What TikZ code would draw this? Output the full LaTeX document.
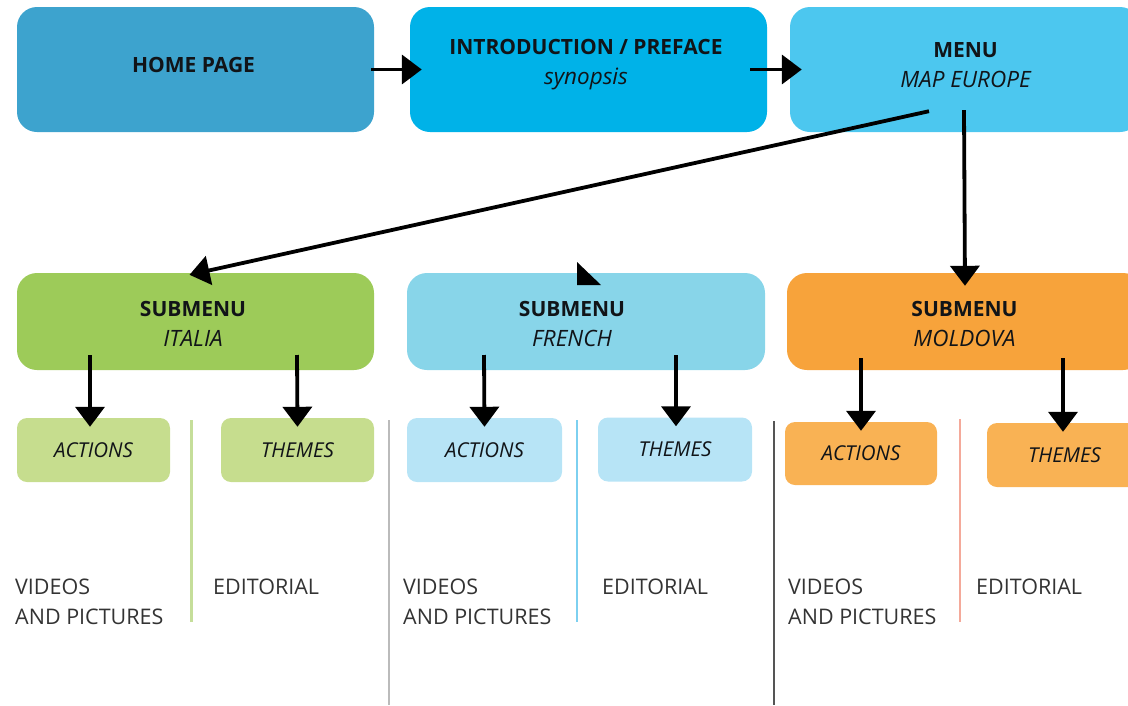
\documentclass[tikz,border=0pt]{standalone}
\usepackage{fontspec}
\setmainfont{Open Sans}
\usetikzlibrary{arrows.meta,calc}
\definecolor{chome}{HTML}{3DA3CE}
\definecolor{cintro}{HTML}{00B2E8}
\definecolor{cmenu}{HTML}{4CC7EF}
\definecolor{citalia}{HTML}{9DCB59}
\definecolor{cfrench}{HTML}{88D5E9}
\definecolor{cmoldova}{HTML}{F7A33B}
\definecolor{citaliaL}{HTML}{C6DD8E}
\definecolor{cfrenchL}{HTML}{B7E4F6}
\definecolor{cmoldovaL}{HTML}{F9B254}
\definecolor{ctitle}{HTML}{111418}
\definecolor{clabel}{HTML}{333333}
\definecolor{sepgreen}{HTML}{C5DE9A}
\definecolor{sepgray}{HTML}{BBBBBB}
\definecolor{sepblue}{HTML}{7DD0F0}
\definecolor{sepdark}{HTML}{555555}
\definecolor{sepsalmon}{HTML}{F4A99A}
\newcommand{\subt}[1]{\fontsize{22.5}{30}\selectfont\mdseries\itshape #1}
\begin{document}
\begin{tikzpicture}[x=1pt,y=-1pt,
  bigbox/.style={rounded corners=20pt, minimum width=357pt, minimum height=125pt, inner sep=0pt},
  midbox/.style={rounded corners=20pt, minimum width=357pt, minimum height=97pt, inner sep=0pt},
  smallbox/.style={rounded corners=10pt, minimum width=153pt, minimum height=64pt, inner sep=0pt,
     font=\fontsize{20.5}{24}\selectfont\itshape, text=ctitle},
  title/.style={align=center, inner sep=0pt, text=ctitle, font=\fontsize{21}{30}\selectfont\bfseries},
  lbl/.style={align=left, anchor=north west, inner sep=0pt, text=clabel, font=\fontsize{21.5}{30}\selectfont},
  arr/.style={line width=3.8pt, -{Triangle[width=29pt,length=20pt]}},
  sep/.style={line width=2.5pt}
]
\useasboundingbox (0,0) rectangle (1128,705);
\clip (0,0) rectangle (1128,705);

% row 1
\node[bigbox, fill=chome] (home) at (195.5,69.5) {};
\node[title] (home-t) at (193.5,64.5) {HOME PAGE};
\node[bigbox, fill=cintro] (intro) at (588.5,69.5) {};
\node[title] (intro-t) at (586,65) {INTRODUCTION / PREFACE\\\subt{synopsis}};
\node[bigbox, fill=cmenu, minimum width=350pt] (menu) at (965,69.5) {};
\node[title] (menu-t) at (965.5,65) {MENU\\\subt{MAP EUROPE}};

% row 2
\node[midbox, fill=citalia] (italia) at (195.5,321.5) {};
\node[title] (italia-t) at (193,324) {SUBMENU\\\subt{ITALIA}};
\node[midbox, fill=cfrench, minimum width=358pt] (french) at (586,321.5) {};
\node[title] (french-t) at (572,324) {SUBMENU\\\subt{FRENCH}};
\node[midbox, fill=cmoldova, minimum width=356pt] (moldova) at (965,321.5) {};
\node[title] (moldova-t) at (964.5,324) {SUBMENU\\\subt{MOLDOVA}};

% row 3
\node[smallbox, fill=citaliaL] (ia) at (93.5,450) {ACTIONS};
\node[smallbox, fill=citaliaL] (it) at (297.5,450) {THEMES};
\node[smallbox, fill=cfrenchL, minimum width=155pt] (fa) at (484.5,450) {ACTIONS};
\node[smallbox, fill=cfrenchL, minimum width=154pt] (ft) at (675,449.5) {THEMES};
\node[smallbox, fill=cmoldovaL, minimum width=152pt, minimum height=63pt] (ma) at (861,453.5) {ACTIONS};
\node[smallbox, fill=cmoldovaL, minimum width=155pt] (mt) at (1064.5,455) {THEMES};

% separators
\coordinate (s1a) at (191.5,420); \coordinate (s1b) at (191.5,622);
\coordinate (s2a) at (389,420);   \coordinate (s2b) at (389,705);
\coordinate (s3a) at (577,420);   \coordinate (s3b) at (577,622);
\coordinate (s4a) at (774,421);   \coordinate (s4b) at (774,705);
\coordinate (s5a) at (960,419);   \coordinate (s5b) at (960,622);
\draw[sep, sepgreen] (s1a) -- (s1b);
\draw[sep, sepgray] (s2a) -- (s2b);
\draw[sep, sepblue] (s3a) -- (s3b);
\draw[sep, sepdark, line width=2pt] (s4a) -- (s4b);
\draw[sep, sepsalmon] (s5a) -- (s5b);

% bottom labels
\node[lbl] (iv) at (15,579) {VIDEOS\\AND PICTURES};
\node[lbl] (ie) at (213,579) {EDITORIAL};
\node[lbl] (fv) at (403,579) {VIDEOS\\AND PICTURES};
\node[lbl] (fe) at (602,579) {EDITORIAL};
\node[lbl] (mv) at (788,579) {VIDEOS\\AND PICTURES};
\node[lbl] (me) at (976,579) {EDITORIAL};

% connectors row 1
\draw[arr] ([xshift=-3pt]home.east) -- ([xshift=12pt]intro.west);
\draw[arr] ([xshift=-17pt]intro.east) -- ([xshift=12pt]menu.west);
\draw[arr] ([xshift=-36pt,yshift=21pt]menu.south) -- ([xshift=-6pt,yshift=-2pt]italia.north);
\draw[arr] ([xshift=-1pt,yshift=22pt]menu.south) -- ([yshift=-13pt]moldova.north);

% stray arrowhead on french
\fill (577,262) -- (601,285) -- (577,285) -- cycle;

% connectors row 2 -> 3
\draw[arr] (90,355) -- ([xshift=-3.5pt,yshift=-9pt]ia.north);
\draw[arr] (297,355) -- ([yshift=-9pt]it.north);
\draw[arr] (484,355) -- ([yshift=-9pt]fa.north);
\draw[arr] (676,355) -- ([xshift=1pt,yshift=-9pt]ft.north);
\draw[arr] (861,358) -- ([yshift=-9pt]ma.north);
\draw[arr] (1063,358) -- ([xshift=-1.5pt,yshift=-9pt]mt.north);
\end{tikzpicture}
\end{document}
